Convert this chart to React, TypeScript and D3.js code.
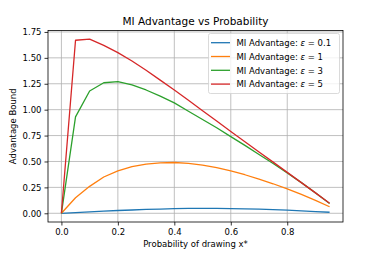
import React, { useEffect, useRef } from "react";
import * as d3 from "d3";

const probs = [0, 0.05, 0.1, 0.15, 0.2, 0.25, 0.3, 0.35, 0.4, 0.45, 0.5, 0.55, 0.6, 0.65, 0.7, 0.75, 0.8, 0.85, 0.9, 0.95];
const eps01 = [0, 0.007, 0.014, 0.02, 0.027, 0.032, 0.037, 0.041, 0.045, 0.047, 0.048, 0.048, 0.046, 0.043, 0.04, 0.035, 0.03, 0.024, 0.017, 0.01];
const eps1 = [0, 0.15, 0.26, 0.35, 0.41, 0.45, 0.475, 0.487, 0.49, 0.482, 0.465, 0.44, 0.41, 0.372, 0.33, 0.285, 0.236, 0.182, 0.125, 0.063];
const eps3 = [0, 0.93, 1.18, 1.26, 1.27, 1.24, 1.19, 1.13, 1.065, 0.985, 0.905, 0.825, 0.74, 0.655, 0.568, 0.48, 0.39, 0.296, 0.197, 0.095];
const eps5 = [0, 1.67, 1.68, 1.62, 1.55, 1.47, 1.38, 1.285, 1.19, 1.09, 0.99, 0.89, 0.79, 0.69, 0.592, 0.494, 0.395, 0.296, 0.197, 0.097];
const seriesLabels = ["0.1", "1", "3", "5"];
const colors = ["#1f77b4", "#ff7f0e", "#2ca02c", "#d62728"];
const xTicks = [0, 0.2, 0.4, 0.6, 0.8];
const yTicks = [0, 0.25, 0.5, 0.75, 1.0, 1.25, 1.5, 1.75];

const W = 382;
const H = 254;
const M = { left: 48, right: 343, top: 30.5, bottom: 222 };

export default function App() {
  const ref = useRef<SVGSVGElement>(null);

  useEffect(() => {
    const el = ref.current;
    if (!el) return;
    const svg = d3.select(el);
    svg.selectAll("*").remove();

    const x = d3.scaleLinear().domain([-0.0475, 0.9975]).range([M.left, M.right]);
    const y = d3.scaleLinear().domain([-0.084, 1.764]).range([M.bottom, M.top]);

    const font = "DejaVu Sans, sans-serif";

    // grid
    const grid = svg.append("g").attr("stroke", "#b0b0b0").attr("stroke-width", 0.8);
    xTicks.forEach((t) => {
      grid.append("line").attr("x1", x(t)).attr("x2", x(t)).attr("y1", M.top).attr("y2", M.bottom);
    });
    yTicks.forEach((t) => {
      grid.append("line").attr("x1", M.left).attr("x2", M.right).attr("y1", y(t)).attr("y2", y(t));
    });

    // lines
    const all = [eps01, eps1, eps3, eps5];
    const line = d3
      .line<number>()
      .x((_, i) => x(probs[i]))
      .y((d) => y(d));
    all.forEach((s, i) => {
      svg
        .append("path")
        .datum(s)
        .attr("d", line)
        .attr("fill", "none")
        .attr("stroke", colors[i])
        .attr("stroke-width", 1.3)
        .attr("stroke-linejoin", "round");
    });

    // axes
    const xAxis = svg
      .append("g")
      .attr("transform", `translate(0,${M.bottom})`)
      .call(d3.axisBottom(x).tickValues(xTicks).tickFormat(d3.format(".1f")).tickSizeOuter(0).tickSize(3.5).tickPadding(3));
    const yAxis = svg
      .append("g")
      .attr("transform", `translate(${M.left},0)`)
      .call(d3.axisLeft(y).tickValues(yTicks).tickFormat(d3.format(".2f")).tickSizeOuter(0).tickSize(3.5).tickPadding(3));
    [xAxis, yAxis].forEach((a) => {
      a.select(".domain").remove();
      a.selectAll("text").attr("font-family", font).attr("font-size", 8.5).attr("fill", "#000");
      a.selectAll("line").attr("stroke", "#000").attr("stroke-width", 0.8);
    });

    svg
      .append("rect")
      .attr("x", M.left)
      .attr("y", M.top)
      .attr("width", M.right - M.left)
      .attr("height", M.bottom - M.top)
      .attr("fill", "none")
      .attr("stroke", "#000")
      .attr("stroke-width", 0.8);

    // labels
    svg
      .append("text")
      .attr("x", (M.left + M.right) / 2)
      .attr("y", 25)
      .attr("text-anchor", "middle")
      .attr("font-family", font)
      .attr("font-size", 10.5)
      .text("MI Advantage vs Probability");
    svg
      .append("text")
      .attr("x", (M.left + M.right) / 2)
      .attr("y", 247)
      .attr("text-anchor", "middle")
      .attr("font-family", font)
      .attr("font-size", 8.5)
      .text("Probability of drawing x*");
    svg
      .append("text")
      .attr("transform", `translate(16,${(M.top + M.bottom) / 2}) rotate(-90)`)
      .attr("text-anchor", "middle")
      .attr("font-family", font)
      .attr("font-size", 8.5)
      .text("Advantage Bound");

    // legend
    const lg = svg.append("g");
    lg.append("rect")
      .attr("x", 208.5)
      .attr("y", 33.5)
      .attr("width", 131)
      .attr("height", 60)
      .attr("rx", 2)
      .attr("fill", "#fff")
      .attr("fill-opacity", 0.8)
      .attr("stroke", "#d0d0d0")
      .attr("stroke-width", 0.8);
    seriesLabels.forEach((lab, i) => {
      const ly = 42.7 + i * 13.8;
      lg.append("line")
        .attr("x1", 211)
        .attr("x2", 230)
        .attr("y1", ly)
        .attr("y2", ly)
        .attr("stroke", colors[i])
        .attr("stroke-width", 1.3);
      const t = lg
        .append("text")
        .attr("x", 236.5)
        .attr("y", ly + 3.2)
        .attr("font-family", font)
        .attr("font-size", 8.5);
      t.append("tspan").text("MI Advantage: ");
      t.append("tspan").attr("font-style", "italic").text("ε");
      t.append("tspan").text(` = ${lab}`);
    });
  }, []);

  return (
    <svg
      ref={ref}
      width={W}
      height={H}
      style={{ position: "absolute", left: 0, top: 0, background: "#fff" }}
    />
  );
}
